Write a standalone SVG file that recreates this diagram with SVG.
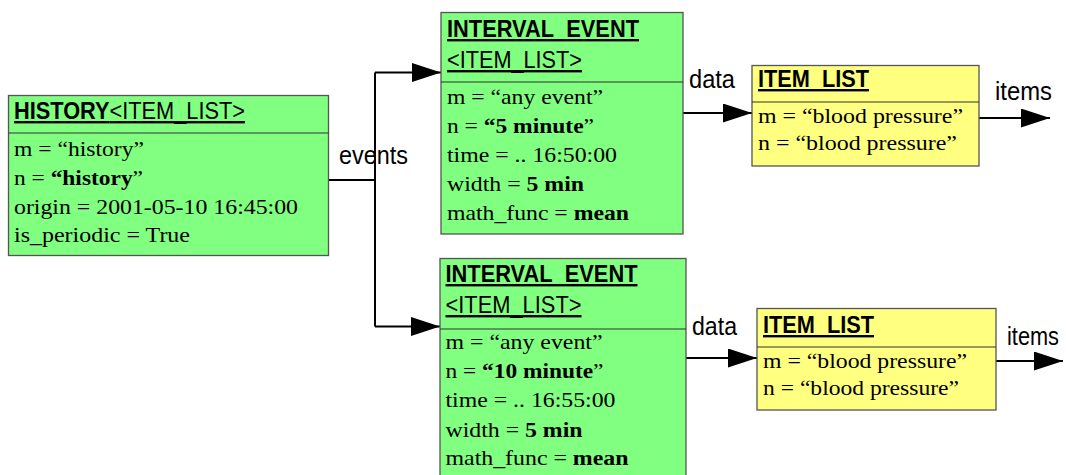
<svg xmlns="http://www.w3.org/2000/svg" width="1066" height="475" viewBox="0 0 1066 475">
<style>
.g{fill:#80ff80;stroke:#555;stroke-width:1.3}
.y{fill:#ffff80;stroke:#555;stroke-width:1.3}
.dv{stroke:#333;stroke-width:1.2}
.h{font-family:"Liberation Sans",Arial,sans-serif;font-size:24px;fill:#000;text-decoration:underline}
.t{font-family:"Liberation Serif","Times New Roman",serif;font-size:21.5px;fill:#000}
.l{font-family:"Liberation Sans",Arial,sans-serif;font-size:25px;fill:#000}
.b{font-weight:bold}
.c{fill:none;stroke:#000;stroke-width:2}
</style>
<defs>
<marker id="ah" markerUnits="userSpaceOnUse" markerWidth="31" markerHeight="20" refX="29" refY="9.5" orient="auto">
<path d="M0,0 L29,9.5 L0,19 z" fill="#000"/>
</marker>
</defs>
<g id="connectors">
<path class="c" d="M328 180 H375"/>
<path class="c" d="M375 72.5 V326.5"/>
<path class="c" d="M375 72.5 H441" marker-end="url(#ah)"/>
<path class="c" d="M375 326.5 H440" marker-end="url(#ah)"/>
<path class="c" d="M683 113 H752" marker-end="url(#ah)"/>
<path class="c" d="M979 118 H1050" marker-end="url(#ah)"/>
<path class="c" d="M686 358 H757" marker-end="url(#ah)"/>
<path class="c" d="M996 361 H1063" marker-end="url(#ah)"/>
<text class="l" x="339" y="164" textLength="69" lengthAdjust="spacingAndGlyphs">events</text>
<text class="l" x="689" y="88" textLength="46" lengthAdjust="spacingAndGlyphs">data</text>
<text class="l" x="995" y="100" textLength="57" lengthAdjust="spacingAndGlyphs">items</text>
<text class="l" x="692" y="335" textLength="45" lengthAdjust="spacingAndGlyphs">data</text>
<text class="l" x="1007" y="345" textLength="52" lengthAdjust="spacingAndGlyphs">items</text>
</g>
<g id="history">
<rect class="g" x="8.5" y="95.5" width="320" height="160"/>
<line class="dv" x1="8.5" y1="133" x2="328.5" y2="133"/>
<text class="h" x="14" y="119" textLength="231" lengthAdjust="spacingAndGlyphs"><tspan class="b">HISTORY</tspan>&lt;ITEM_LIST&gt;</text>
<text class="t" x="14" y="156" textLength="130" lengthAdjust="spacingAndGlyphs">m = “history”</text>
<text class="t" x="14" y="185" textLength="129" lengthAdjust="spacingAndGlyphs">n = <tspan class="b">“history</tspan>”</text>
<text class="t" x="14" y="213.5" textLength="284" lengthAdjust="spacingAndGlyphs">origin = 2001-05-10 16:45:00</text>
<text class="t" x="14" y="242" textLength="176" lengthAdjust="spacingAndGlyphs">is_periodic = True</text>
</g>
<g id="interval_event_1">
<rect class="g" x="441" y="12.5" width="242" height="221.5"/>
<line class="dv" x1="441" y1="82" x2="683" y2="82"/>
<text class="h b" x="447" y="37" textLength="192" lengthAdjust="spacingAndGlyphs">INTERVAL_EVENT</text>
<text class="h" x="447" y="68" textLength="135" lengthAdjust="spacingAndGlyphs">&lt;ITEM_LIST&gt;</text>
<text class="t" x="447" y="104" textLength="156" lengthAdjust="spacingAndGlyphs">m = “any event”</text>
<text class="t" x="447" y="133" textLength="147" lengthAdjust="spacingAndGlyphs">n = <tspan class="b">“5 minute</tspan>”</text>
<text class="t" x="447" y="162" textLength="170" lengthAdjust="spacingAndGlyphs">time = .. 16:50:00</text>
<text class="t" x="447" y="191" textLength="137" lengthAdjust="spacingAndGlyphs">width = <tspan class="b">5 min</tspan></text>
<text class="t" x="447" y="220" textLength="182" lengthAdjust="spacingAndGlyphs">math_func = <tspan class="b">mean</tspan></text>
</g>
<g id="item_list_1">
<rect class="y" x="752" y="65.5" width="227" height="100.5"/>
<line class="dv" x1="752" y1="102" x2="979" y2="102"/>
<text class="h b" x="758" y="87" textLength="111" lengthAdjust="spacingAndGlyphs">ITEM_LIST</text>
<text class="t" x="758" y="123" textLength="205" lengthAdjust="spacingAndGlyphs">m = “blood pressure”</text>
<text class="t" x="758" y="150" textLength="199" lengthAdjust="spacingAndGlyphs">n = “blood pressure”</text>
</g>
<g id="interval_event_2">
<rect class="g" x="440" y="258.5" width="246" height="230"/>
<line class="dv" x1="440" y1="329" x2="686" y2="329"/>
<text class="h b" x="445.5" y="282" textLength="192" lengthAdjust="spacingAndGlyphs">INTERVAL_EVENT</text>
<text class="h" x="445.5" y="313" textLength="136" lengthAdjust="spacingAndGlyphs">&lt;ITEM_LIST&gt;</text>
<text class="t" x="445.5" y="349" textLength="157" lengthAdjust="spacingAndGlyphs">m = “any event”</text>
<text class="t" x="445.5" y="378" textLength="158" lengthAdjust="spacingAndGlyphs">n = <tspan class="b">“10 minute</tspan>”</text>
<text class="t" x="445.5" y="407" textLength="170" lengthAdjust="spacingAndGlyphs">time = .. 16:55:00</text>
<text class="t" x="445.5" y="437" textLength="137" lengthAdjust="spacingAndGlyphs">width = <tspan class="b">5 min</tspan></text>
<text class="t" x="445.5" y="465" textLength="183" lengthAdjust="spacingAndGlyphs">math_func = <tspan class="b">mean</tspan></text>
</g>
<g id="item_list_2">
<rect class="y" x="757" y="308.5" width="239" height="101.5"/>
<line class="dv" x1="757" y1="347" x2="996" y2="347"/>
<text class="h b" x="763" y="333" textLength="111" lengthAdjust="spacingAndGlyphs">ITEM_LIST</text>
<text class="t" x="763" y="368" textLength="204" lengthAdjust="spacingAndGlyphs">m = “blood pressure”</text>
<text class="t" x="763" y="395" textLength="196" lengthAdjust="spacingAndGlyphs">n = “blood pressure”</text>
</g>
</svg>
